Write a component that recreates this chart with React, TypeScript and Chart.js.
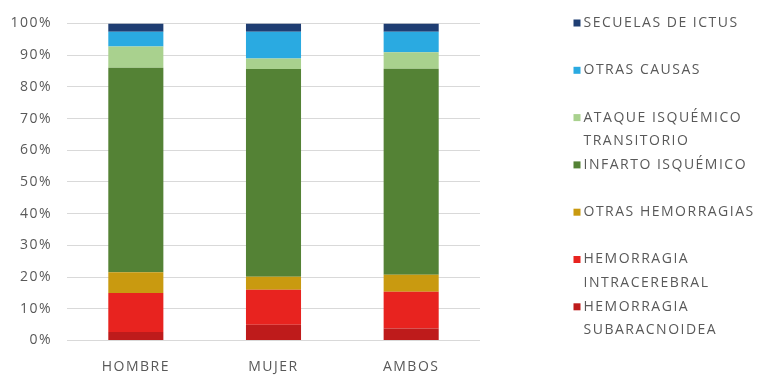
import React, { useEffect, useRef } from "react";
import { Chart, registerables } from "chart.js";

Chart.register(...registerables);

// Categories on the x axis
const categories = ["HOMBRE", "MUJER", "AMBOS"];

// Share of each cause (%), stacked bottom to top
const hemorragiaSubaracnoidea = [2.7, 5.0, 3.8];
const hemorragiaIntracerebral = [12.3, 11.0, 11.6];
const otrasHemorragias = [6.5, 4.1, 5.3];
const infartoIsquemico = [64.5, 65.5, 65.0];
const ataqueIsquemicoTransitorio = [6.7, 3.3, 5.2];
const otrasCausas = [4.7, 8.5, 6.5];
const secuelasDeIctus = [2.6, 2.6, 2.6];

// Legend text, one entry per series (multi-line where it wraps)
const seriesLabels = [
  ["HEMORRAGIA", "SUBARACNOIDEA"],
  ["HEMORRAGIA", "INTRACEREBRAL"],
  ["OTRAS HEMORRAGIAS"],
  ["INFARTO ISQUÉMICO"],
  ["ATAQUE ISQUÉMICO", "TRANSITORIO"],
  ["OTRAS CAUSAS"],
  ["SECUELAS DE ICTUS"],
];

const seriesColors = [
  "#BE1B1B",
  "#E8231F",
  "#C99A10",
  "#548235",
  "#A9D18E",
  "#2AAAE1",
  "#1F3E73",
];

const FONT_FAMILY = "'Open Sans', sans-serif";
const TEXT_COLOR = "#595959";
const LETTER_SPACING = "1.5px";

// Applies letter spacing to axis text drawn by the scales
const spacingPlugin = {
  id: "letterSpacing",
  beforeDraw(chart: any) {
    chart.ctx.letterSpacing = LETTER_SPACING;
  },
  afterDraw(chart: any) {
    chart.ctx.letterSpacing = "0px";
  },
};

// Legend on the right, listed from the top series down
const sideLegendPlugin = {
  id: "sideLegend",
  afterDraw(chart: any) {
    const ctx = chart.ctx;
    const datasets = chart.data.datasets;
    const x = 573.5;
    const box = 7;
    const startY = 23;
    const step = 47.3;
    const lineHeight = 23.5;
    ctx.save();
    ctx.letterSpacing = LETTER_SPACING;
    ctx.font = `14px ${FONT_FAMILY}`;
    ctx.textBaseline = "middle";
    ctx.textAlign = "left";
    for (let i = 0; i < datasets.length; i++) {
      const ds = datasets[datasets.length - 1 - i];
      const y = startY + i * step;
      ctx.fillStyle = ds.backgroundColor;
      ctx.fillRect(x, y - box / 2, box, box);
      ctx.fillStyle = TEXT_COLOR;
      const lines: string[] = ds.legendLines;
      lines.forEach((line, j) => {
        ctx.fillText(line, x + 10, y + j * lineHeight);
      });
    }
    ctx.restore();
  },
};

export default function App() {
  const canvasRef = useRef<HTMLCanvasElement | null>(null);

  useEffect(() => {
    if (!canvasRef.current) return;
    const seriesValues = [
      hemorragiaSubaracnoidea,
      hemorragiaIntracerebral,
      otrasHemorragias,
      infartoIsquemico,
      ataqueIsquemicoTransitorio,
      otrasCausas,
      secuelasDeIctus,
    ];
    const chart = new Chart(canvasRef.current, {
      type: "bar",
      data: {
        labels: categories,
        datasets: seriesValues.map((values, i) => ({
          label: seriesLabels[i].join(" "),
          legendLines: seriesLabels[i],
          data: values,
          backgroundColor: seriesColors[i],
          borderWidth: 0,
          categoryPercentage: 0.8,
          barPercentage: 0.5,
        })) as any,
      },
      options: {
        animation: false,
        responsive: true,
        maintainAspectRatio: false,
        layout: { padding: { top: 20, right: 279, bottom: 0, left: 0 } },
        plugins: {
          legend: { display: false },
          tooltip: { enabled: false },
        },
        scales: {
          x: {
            stacked: true,
            grid: { display: false, drawTicks: false },
            border: { display: false },
            ticks: {
              color: TEXT_COLOR,
              font: { family: FONT_FAMILY, size: 14 },
              padding: 18,
            },
            afterFit(scale: any) {
              scale.height = 35.5;
            },
          },
          y: {
            stacked: true,
            min: 0,
            max: 100,
            grid: { color: "#D9D9D9", lineWidth: 1, drawTicks: false },
            border: { display: false },
            ticks: {
              stepSize: 10,
              color: TEXT_COLOR,
              font: { family: FONT_FAMILY, size: 14 },
              padding: 15,
              callback: (v: any) => `${v}%`,
            },
            afterFit(scale: any) {
              scale.width = 67;
            },
          },
        },
      },
      plugins: [spacingPlugin, sideLegendPlugin],
    });
    return () => chart.destroy();
  }, []);

  return (
    <div
      style={{
        position: "absolute",
        left: 0,
        top: 0,
        width: 759,
        height: 376,
        background: "#ffffff",
      }}
    >
      <canvas ref={canvasRef} />
    </div>
  );
}
